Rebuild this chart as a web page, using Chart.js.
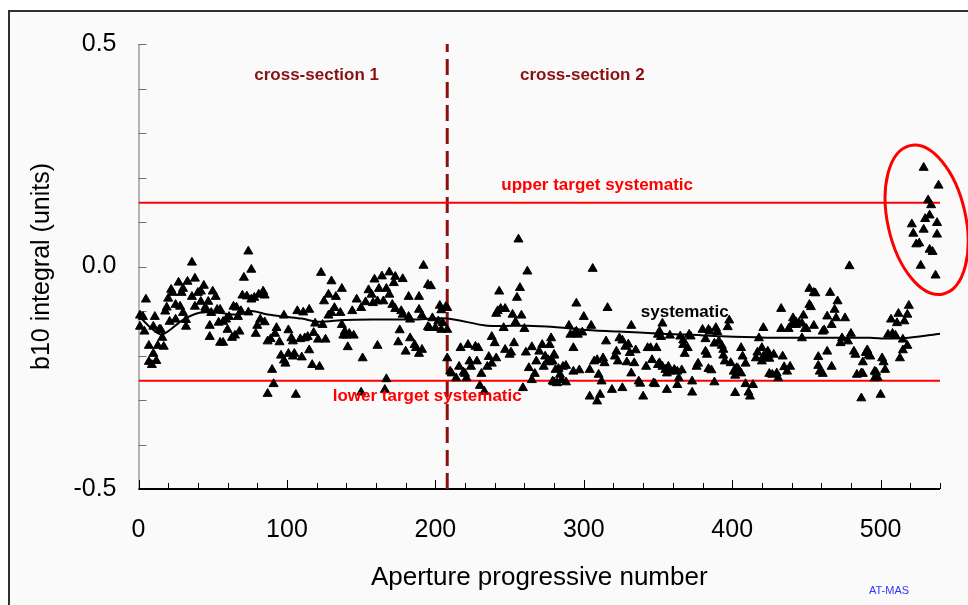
<!DOCTYPE html>
<html>
<head>
<meta charset="utf-8">
<script src="https://cdn.jsdelivr.net/npm/chart.js@4.4.1/dist/chart.umd.min.js"></script>
<style>
  html, body { margin: 0; padding: 0; background: #fff; }
  #chart { display: block; }
</style>
</head>
<body>
<canvas id="chart" width="968" height="605"></canvas>
<script>
const ctx = document.getElementById("chart");

/* ================= DATA ================= */

// b10 integral per aperture, cross-section 1 (apertures 1..207)
const section1 = [
  [1,-0.110],[3,-0.113],[1,-0.135],[4,-0.146],[5,-0.074],[11,-0.113],[10,-0.135],[14,-0.142],
  [7,-0.178],[10,-0.196],[7,-0.214],[12,-0.212],[9,-0.221],[13,-0.178],[17,-0.180],[16,-0.160],
  [15,-0.142],[19,-0.092],[20,-0.072],[22,-0.052],[27,-0.036],[23,-0.059],[25,-0.086],[18,-0.101],
  [21,-0.124],[25,-0.119],[30,-0.104],[28,-0.090],[29,-0.059],[30,-0.050],[33,-0.034],[36,0.009],
  [38,-0.027],[36,-0.068],[38,-0.090],[32,-0.135],[32,-0.120],[40,-0.059],[42,-0.056],[44,-0.043],
  [42,-0.079],[45,-0.092],[47,-0.079],[50,-0.056],[52,-0.068],[45,-0.097],[49,-0.104],[53,-0.097],
  [55,-0.097],[48,-0.133],[48,-0.158],[54,-0.126],[57,-0.124],[55,-0.171],[57,-0.171],[60,-0.142],
  [59,-0.119],[61,-0.113],[63,-0.160],[64,-0.090],[66,-0.092],[65,-0.155],[67,-0.113],
  [74,0.034],[76,-0.007],[71,-0.025],[70,-0.065],[73,-0.067],[76,-0.074],[78,-0.070],[81,-0.063],
  [84,-0.056],[85,-0.065],[69,-0.100],[74,-0.103],[82,-0.119],[85,-0.125],[80,-0.133],[68,-0.146],
  [79,-0.151],[87,-0.168],[89,-0.163],[92,-0.151],[93,-0.138],[95,-0.170],[90,-0.232],[91,-0.264],
  [87,-0.286],[106,-0.288],[96,-0.200],[98,-0.211],[101,-0.196],[99,-0.218],[105,-0.196],[104,-0.202],
  [110,-0.204],[115,-0.188],[117,-0.221],[122,-0.225],[101,-0.143],[103,-0.161],[104,-0.168],[98,-0.110],
  [109,-0.163],[112,-0.161],[114,-0.158],[118,-0.149],[121,-0.164],[126,-0.164],[107,-0.100],[111,-0.103],
  [115,-0.097],[123,-0.014],[130,-0.033],[128,-0.063],[125,-0.078],[133,-0.068],[132,-0.093],[130,-0.104],
  [128,-0.110],[119,-0.128],[124,-0.131],[136,-0.104],[137,-0.131],[138,-0.155],
  [137,-0.050],[139,-0.146],[140,-0.155],[142,-0.151],[145,-0.155],[141,-0.181],[144,-0.100],[147,-0.074],
  [150,-0.093],[153,-0.080],[155,-0.053],[157,-0.063],[158,-0.082],[159,-0.029],[162,-0.050],[164,-0.022],
  [161,-0.078],[165,-0.078],[167,-0.050],[169,-0.013],[172,-0.037],[173,-0.023],[178,-0.028],[169,-0.063],
  [171,-0.086],[173,-0.095],[177,-0.100],[178,-0.108],[182,-0.113],[183,-0.119],[182,-0.068],[189,-0.068],
  [189,-0.097],[191,-0.110],[192,0.002],[195,-0.041],[197,-0.044],[203,-0.088],[204,-0.098],[207,-0.091],
  [176,-0.143],[175,-0.170],[161,-0.178],[183,-0.161],[186,-0.176],[187,-0.183],[191,-0.187],[180,-0.191],
  [189,-0.196],[195,-0.136],[198,-0.116],[196,-0.138],[200,-0.138],[202,-0.123],[204,-0.142],[205,-0.127],
  [151,-0.206],[167,-0.253],[166,-0.277],[150,-0.283]
];

// cross-section 2 (apertures 208..520)
const section2 = [
  [208,-0.206],[208,-0.093],[208,-0.142],[210,-0.236],[211,-0.240],[214,-0.251],[216,-0.225],[217,-0.183],
  [219,-0.238],[220,-0.241],[222,-0.176],[223,-0.213],[224,-0.225],[221,-0.251],[227,-0.180],[229,-0.183],
  [228,-0.213],[231,-0.241],[230,-0.268],[233,-0.281],[236,-0.203],[235,-0.225],[238,-0.218],[241,-0.206],
  [238,-0.158],[240,-0.172],[243,-0.056],[244,-0.095],[241,-0.106],[242,-0.100],[247,-0.095],[246,-0.138],
  [247,-0.187],[250,-0.198],[251,-0.193],[252,-0.108],[254,-0.125],[253,-0.172],[256,0.061],[262,-0.011],
  [257,-0.048],[255,-0.070],[258,-0.110],[260,-0.140],[259,-0.273],[261,-0.193],[263,-0.228],[265,-0.181],
  [267,-0.241],[265,-0.255],[268,-0.213],[270,-0.191],[272,-0.176],[273,-0.225],[274,-0.202],[276,-0.210],
  [278,-0.161],[277,-0.215],[279,-0.258],[280,-0.200],
  [277,-0.176],[280,-0.198],[279,-0.213],[281,-0.232],[283,-0.230],[284,-0.243],[286,-0.225],[288,-0.223],
  [280,-0.260],[282,-0.262],[285,-0.255],[288,-0.260],[290,-0.133],[291,-0.153],[294,-0.149],[295,-0.146],
  [296,-0.153],[299,-0.148],[293,-0.183],[295,-0.083],[300,-0.113],[293,-0.236],[297,-0.233],[304,-0.232],
  [304,-0.292],[306,-0.005],[305,-0.133],[307,-0.213],[309,-0.210],[310,-0.243],[311,-0.288],[309,-0.303],
  [312,-0.258],[313,-0.206],[314,-0.217],[315,-0.168],[316,-0.093],[319,-0.277],[321,-0.202],[322,-0.191],
  [323,-0.213],[324,-0.161],[326,-0.273],[326,-0.166],[328,-0.180],[329,-0.215],[330,-0.175],[331,-0.194],
  [332,-0.133],[332,-0.240],[334,-0.217],[335,-0.188],[337,-0.258],[338,-0.263],[340,-0.292],[342,-0.225],
  [343,-0.183],[345,-0.183],[346,-0.210],[347,-0.262],[349,-0.183],[350,-0.221],[350,-0.153],
  [351,-0.146],[353,-0.128],[352,-0.158],[358,-0.155],[365,-0.157],[367,-0.166],[371,-0.153],[372,-0.157],
  [367,-0.176],[370,-0.183],[368,-0.196],[351,-0.217],[353,-0.225],[355,-0.232],[357,-0.225],[356,-0.240],
  [358,-0.236],[361,-0.232],[363,-0.236],[366,-0.233],[364,-0.251],[348,-0.264],[356,-0.277],[363,-0.266],
  [373,-0.258],[373,-0.283],[376,-0.225],[377,-0.218],[380,-0.142],[382,-0.163],[384,-0.142],[385,-0.146],
  [382,-0.191],[383,-0.198],[384,-0.230],[386,-0.233],[388,-0.173],[389,-0.138],[390,-0.147],[388,-0.260],
  [391,-0.168],[393,-0.178],[394,-0.187],[394,-0.200],[395,-0.213],[398,-0.121],[397,-0.136],[399,-0.217],
  [401,-0.236],[402,-0.245],[403,-0.228],[404,-0.230],[406,-0.240],[402,-0.284],[406,-0.183],[407,-0.202],
  [409,-0.218],[409,-0.264],[411,-0.283],[412,-0.292],[414,-0.266],[416,-0.206],[417,-0.193],[418,-0.161],
  [420,-0.183],[421,-0.138],[420,-0.213],
  [424,-0.191],[421,-0.202],[424,-0.203],[425,-0.207],[428,-0.198],[425,-0.241],[427,-0.243],[430,-0.240],
  [431,-0.251],[434,-0.202],[435,-0.226],[437,-0.236],[439,-0.225],[433,-0.095],[433,-0.140],[438,-0.140],
  [440,-0.131],[441,-0.116],[443,-0.125],[443,-0.131],[445,-0.127],[447,-0.128],[448,-0.110],[449,-0.140],
  [450,-0.140],[447,-0.161],[452,-0.086],[452,-0.050],[455,-0.059],[456,-0.060],[453,-0.091],[455,-0.133],
  [458,-0.203],[458,-0.223],[459,-0.236],[461,-0.241],[461,-0.146],[462,-0.143],[466,-0.059],[464,-0.112],
  [467,-0.131],[464,-0.191],[467,-0.225],[469,-0.097],[470,-0.116],[471,-0.078],[473,-0.172],[474,-0.161],
  [476,-0.116],[478,-0.168],[479,0.001],[480,-0.151],[482,-0.191],[483,-0.198],[487,-0.296],[484,-0.243],
  [487,-0.240],[488,-0.241],[488,-0.215],[491,-0.191],[492,-0.200],
  [500,-0.288],[490,-0.194],[491,-0.188],[493,-0.202],[496,-0.236],[497,-0.238],[496,-0.251],[498,-0.250],
  [501,-0.206],[502,-0.215],[503,-0.232],[505,-0.153],[507,-0.119],[508,-0.151],[510,-0.155],[511,-0.127],
  [512,-0.106],[516,-0.123],[518,-0.108],[519,-0.088],[515,-0.164],[515,-0.188],[518,-0.178],[513,-0.206]
];

// last apertures, outside the upper target (circled)
const outliers = [
  [529,0.222],[539,0.182],[532,0.149],[534,0.138],[530,0.107],[533,0.115],[538,0.098],[521,0.095],
  [522,0.074],[529,0.083],[538,0.072],[524,0.050],[526,0.052],[533,0.038],[535,0.033],[527,0.002],
  [537,-0.020]
];

// running systematic
const sysX = [0, 9, 16, 30, 41, 53, 68, 76, 87, 99, 110, 121, 139, 160, 185, 208, 235, 262, 280,
              299, 323, 352, 370, 393, 423, 441, 470, 493, 505, 519, 540];
const sysY = [-0.110, -0.140, -0.153, -0.120, -0.104, -0.104, -0.108, -0.100, -0.108, -0.113, -0.117,
              -0.124, -0.120, -0.119, -0.119, -0.117, -0.133, -0.133, -0.136, -0.142, -0.146, -0.151,
              -0.153, -0.157, -0.160, -0.160, -0.160, -0.160, -0.162, -0.160, -0.151];

const upperTarget = 0.143;
const lowerTarget = -0.257;
const sectionBoundary = 208;

const xTicks = [0, 100, 200, 300, 400, 500];
const yTicks = [-0.5, 0.0, 0.5];

/* ================= HELPERS ================= */

const FONT = "'Liberation Sans', Arial, Helvetica, sans-serif";
const DARK_RED = "#8b1010";

const pts = arr => arr.map(p => ({ x: p[0], y: p[1] }));

const hline = (v) => [{ x: 0, y: v }, { x: 540, y: v }];

/* ================= PLUGINS ================= */

// frame + page background
const framePlugin = {
  id: "frame",
  beforeDraw(chart){
    const c = chart.ctx;
    c.save();
    c.fillStyle = "#ffffff";
    c.fillRect(0, 0, chart.width, chart.height);
    c.fillStyle = "#fafafa";
    c.fillRect(8, 10, chart.width - 8, chart.height - 10);
    c.strokeStyle = "#303030";
    c.lineWidth = 2;
    c.beginPath();
    c.moveTo(9, chart.height);
    c.lineTo(9, 11);
    c.lineTo(chart.width, 11);
    c.stroke();

    c.fillStyle = "#3333ff";
    c.font = "11px " + FONT;
    c.textAlign = "center";
    c.textBaseline = "middle";
    c.fillText("AT-MAS", 889, 591);
    c.restore();
  }
};

// axis lines with inward tick marks
const axesPlugin = {
  id: "axes",
  beforeDatasetsDraw(chart){
    const c = chart.ctx;
    const { left, right, top, bottom } = chart.chartArea;
    const xs = chart.scales.x, ys = chart.scales.y;
    c.save();

    // y axis
    c.strokeStyle = "#707070";
    c.lineWidth = 1;
    c.beginPath();
    c.moveTo(left + 0.5, top);
    c.lineTo(left + 0.5, bottom);
    for (let v = -5; v <= 5; v++){
      const py = Math.round(ys.getPixelForValue(v / 10)) + 0.5;
      c.moveTo(left, py);
      c.lineTo(left + 8, py);
    }
    c.stroke();

    // x axis
    c.strokeStyle = "#000";
    c.lineWidth = 1;
    c.beginPath();
    for (let v = 0; v <= 540; v += 20){
      const px = Math.round(xs.getPixelForValue(v)) + 0.5;
      const len = v % 100 === 0 ? 9 : 6;
      c.moveTo(px, bottom);
      c.lineTo(px, bottom - len);
    }
    c.stroke();
    c.lineWidth = 2;
    c.beginPath();
    c.moveTo(left, bottom);
    c.lineTo(right, bottom);
    c.stroke();
    c.restore();
  }
};

// text labels + circled outliers
const labelsPlugin = {
  id: "labels",
  afterDatasetsDraw(chart){
    const c = chart.ctx;
    const xs = chart.scales.x, ys = chart.scales.y;
    const text = (s, x, y, color) => {
      c.fillStyle = color;
      c.fillText(s, xs.getPixelForValue(x), ys.getPixelForValue(y));
    };
    c.save();
    c.font = "bold 17px " + FONT;
    c.textAlign = "center";
    c.textBaseline = "middle";
    text("cross-section 1", 120, 0.430, DARK_RED);
    text("cross-section 2", 299, 0.430, DARK_RED);
    text("upper target systematic", 309, 0.183, "#ff0000");
    text("lower target systematic", 194.5, -0.291, "#ff0000");
    text("systematic", 368, -0.104, "#000");

    c.strokeStyle = "#ff0000";
    c.lineWidth = 3;
    c.beginPath();
    c.ellipse(xs.getPixelForValue(531), ys.getPixelForValue(0.105), 39, 76, -0.22, 0, Math.PI * 2);
    c.stroke();
    c.restore();
  }
};

/* ================= CHART ================= */

const tri = {
  pointStyle: "triangle",
  pointRadius: 5.2,
  pointHoverRadius: 5.2,
  borderWidth: 1,
  backgroundColor: "#000",
  borderColor: "#000",
  clip: false
};

const chart = new Chart(ctx, {
  type: "scatter",
  data: {
    datasets: [
      { data: pts(section1), ...tri },
      { data: pts(section2), ...tri },
      { data: pts(outliers), ...tri },
      {
        data: sysX.map((x, i) => ({ x, y: sysY[i] })),
        showLine: true, pointRadius: 0, borderColor: "#000", borderWidth: 2, tension: 0.3
      },
      { data: hline(upperTarget), showLine: true, pointRadius: 0, borderColor: "#ff0000", borderWidth: 2 },
      { data: hline(lowerTarget), showLine: true, pointRadius: 0, borderColor: "#ff0000", borderWidth: 2 },
      {
        data: [{ x: sectionBoundary, y: -0.5 }, { x: sectionBoundary, y: 0.5 }],
        showLine: true, pointRadius: 0, borderColor: DARK_RED, borderWidth: 3, borderDash: [16, 7]
      }
    ]
  },
  options: {
    responsive: false,
    animation: false,
    devicePixelRatio: 1,
    layout: { padding: { left: 0, top: 44, right: 28, bottom: 0 } },
    plugins: { legend: { display: false }, tooltip: { enabled: false } },
    scales: {
      x: {
        type: "linear", min: 0, max: 540,
        grid: { display: false, drawTicks: false }, border: { display: false },
        afterFit: s => { s.height = 116; },
        afterBuildTicks: s => { s.ticks = xTicks.map(v => ({ value: v })); },
        ticks: {
          autoSkip: false, maxRotation: 0, padding: 26,
          color: "#000", font: { family: FONT, size: 25 },
          callback: v => String(v)
        },
        title: {
          display: true, text: "Aperture progressive number",
          color: "#000", font: { family: FONT, size: 26 },
          padding: { top: 0, bottom: 12 }
        }
      },
      y: {
        type: "linear", min: -0.5, max: 0.5,
        grid: { display: false, drawTicks: false }, border: { display: false },
        afterFit: s => { s.width = 138.5; },
        afterBuildTicks: s => { s.ticks = yTicks.map(v => ({ value: v })); },
        ticks: {
          padding: 22, color: "#000", font: { family: FONT, size: 25 },
          callback: v => v.toFixed(1)
        },
        title: {
          display: true, text: "b10 integral (units)",
          color: "#000", font: { family: FONT, size: 25 },
          padding: { top: 27, bottom: 0 }
        }
      }
    }
  },
  plugins: [framePlugin, axesPlugin, labelsPlugin]
});
</script>
</body>
</html>
